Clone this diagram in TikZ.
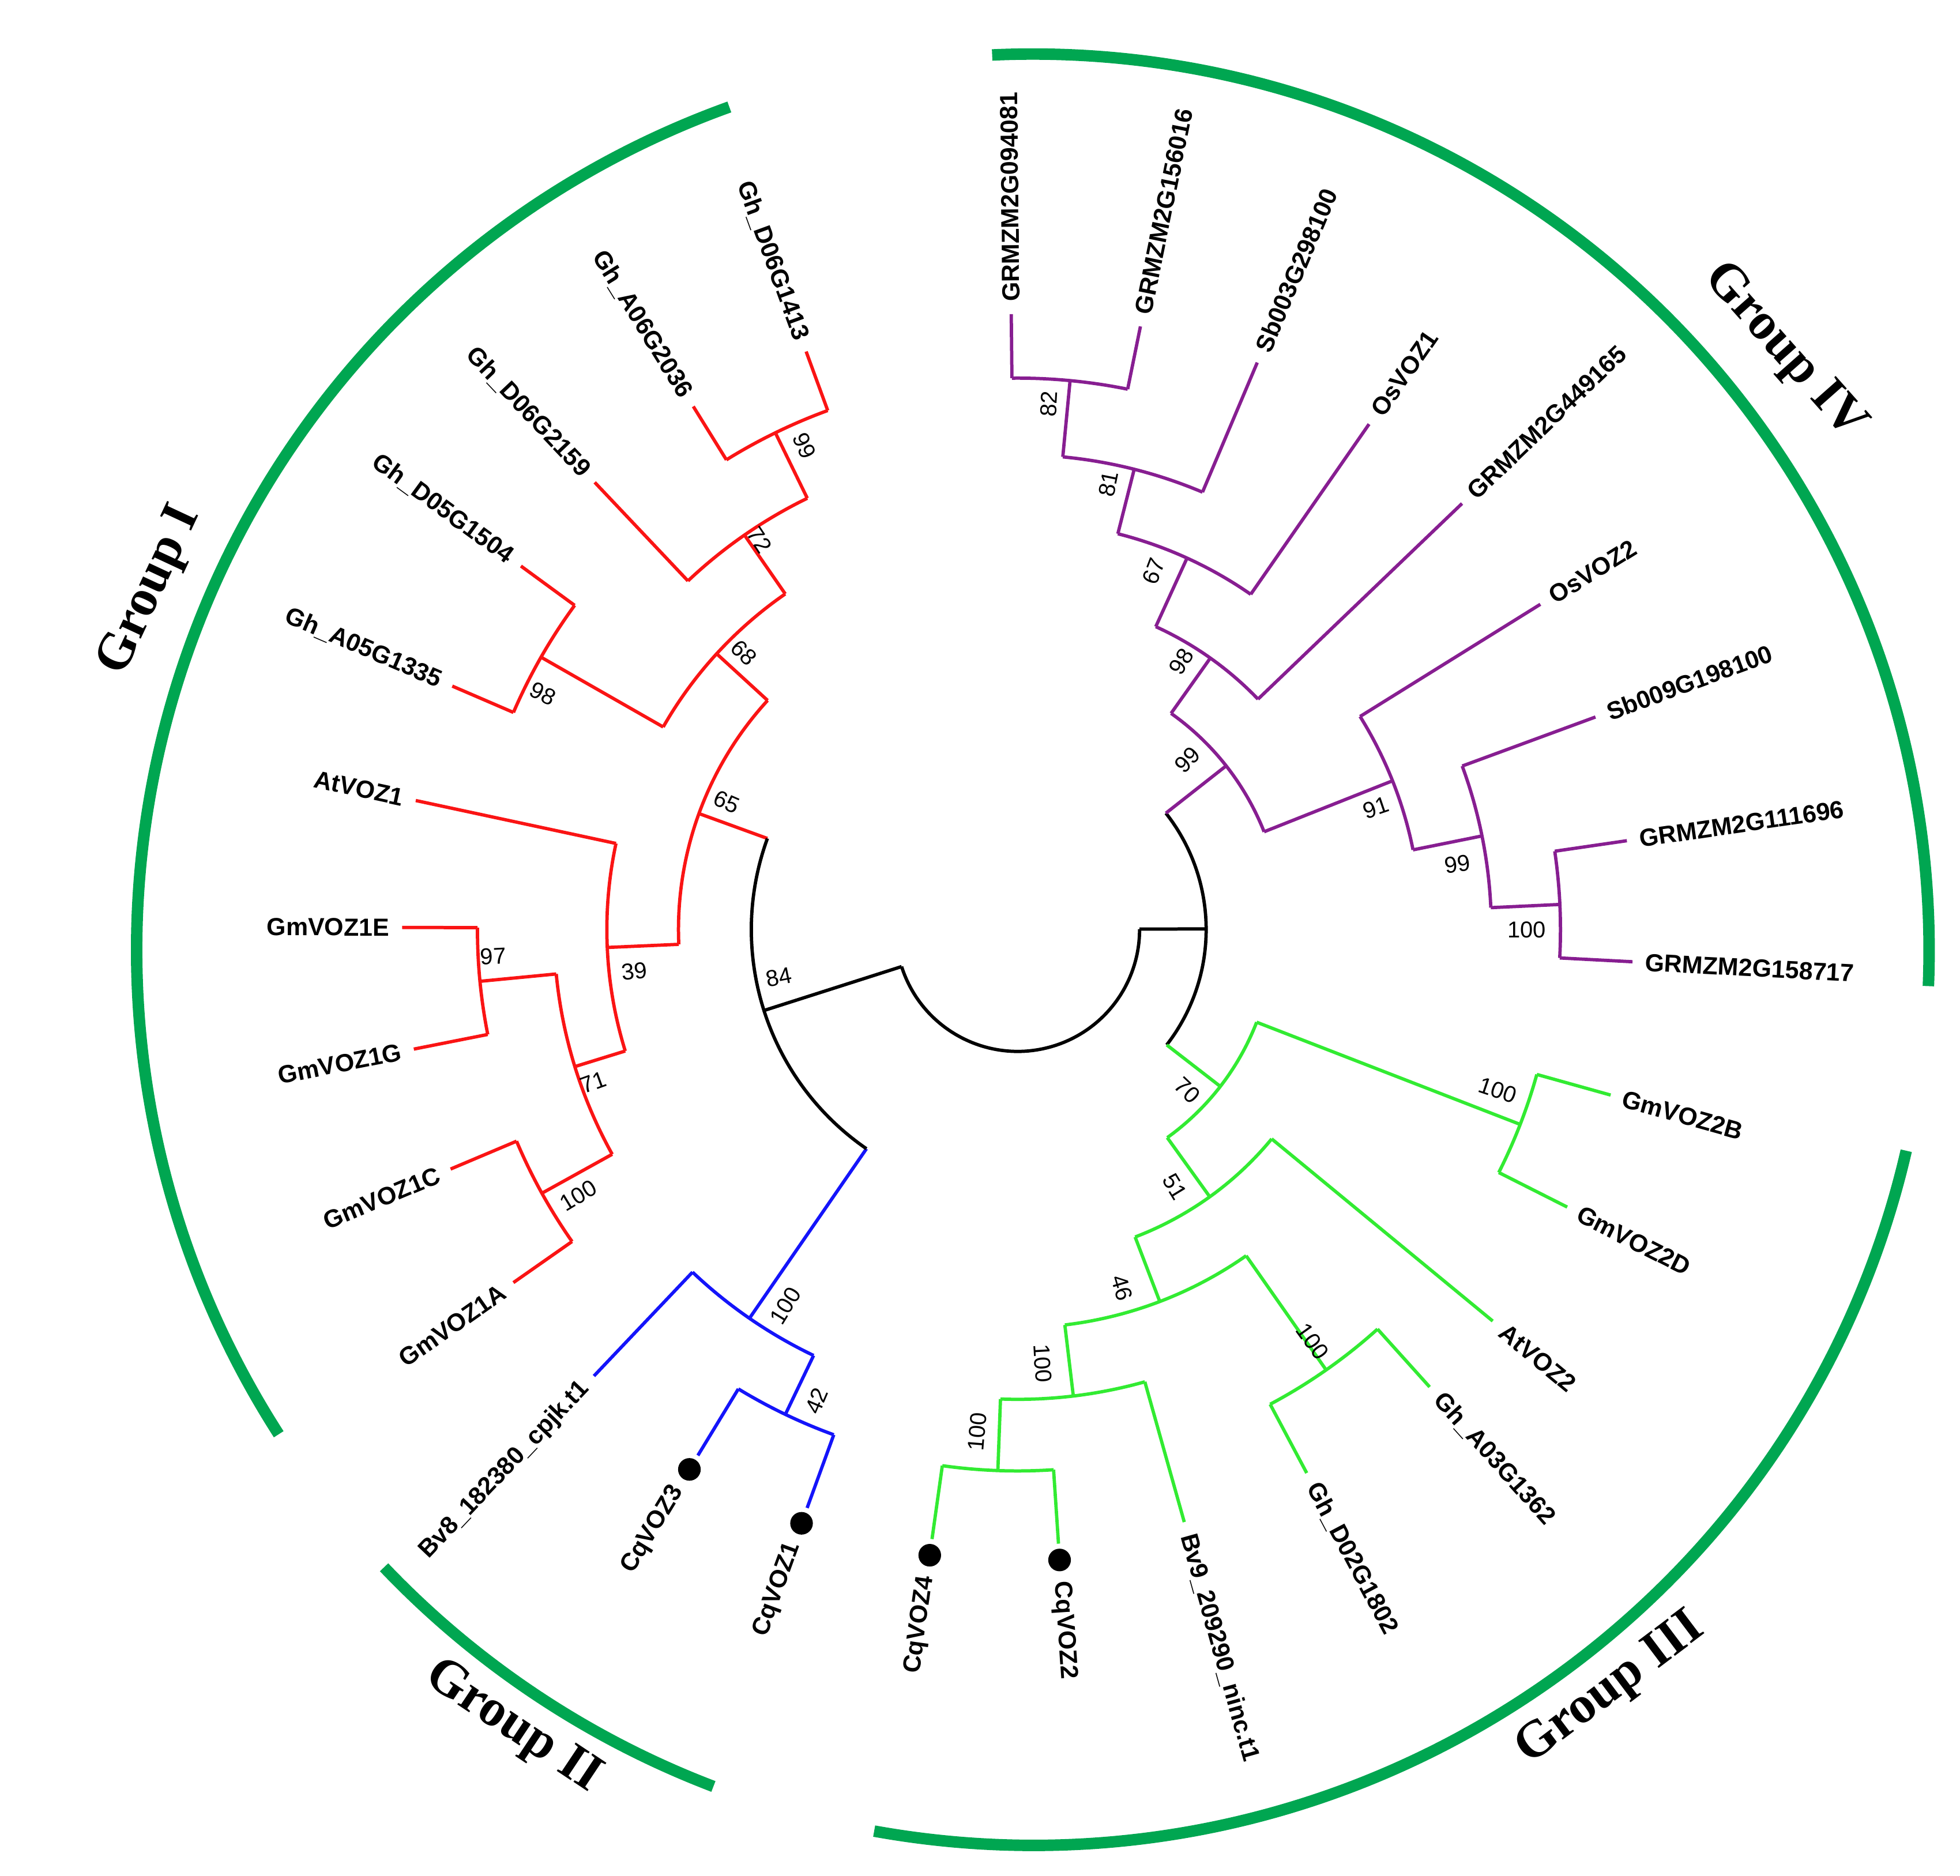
\documentclass[tikz,border=0pt]{standalone}
\usepackage{fontspec}
\setsansfont{Liberation Sans}
\setmainfont{Liberation Serif}
\usetikzlibrary{calc}
\definecolor{cr}{RGB}{250,20,20}
\definecolor{cb}{RGB}{20,20,250}
\definecolor{cg}{RGB}{50,235,50}
\definecolor{cp}{RGB}{135,30,145}
\definecolor{grp}{RGB}{0,166,81}
\tikzset{br/.style={line width=0.75pt},
 lab/.style={font=\fontsize{5.6}{6}\selectfont\sffamily\bfseries,inner sep=1pt},
 bsl/.style={font=\fontsize{5.2}{6}\selectfont\sffamily,inner sep=0.5pt},
 grparc/.style={line width=2.6pt,color=grp},
 grplab/.style={font=\fontsize{11.8}{14}\selectfont\rmfamily\bfseries}}
\newcommand\Rad[4]{\draw[br,#1] ($(T)+(#2:#3)$) -- ($(T)+(#2:#4)$);}
\newcommand\Arc[4]{\draw[br,#1] ($(T)+(#2:#4)$) arc[start angle=#2,end angle=#3,radius=#4*0.01cm];}
\newcommand\Lf[6]{%
 \draw[br,#1] ($(T)+(#2:#3)$) -- ($(T)+(#2:490)$);
 \ifnum#6=1 \fill ($(T)+(#2:503)$) circle[radius=0.09cm]; \def\lr{516}\else\def\lr{496}\fi
 \pgfmathtruncatemacro\sd{(#2>91)&&(#2<270)}%
 \ifnum\sd=1 \node[lab,anchor=east,rotate=#2-180] (#4) at ($(T)+(#2:\lr)$) {#5};
 \else \node[lab,anchor=west,rotate=#2] (#4) at ($(T)+(#2:\lr)$) {#5};\fi}
\newcommand\Bs[4]{%
 \pgfmathtruncatemacro\sd{(#2>91)&&(#2<270)}%
 \ifnum\sd=1 \node[bsl,rotate=#2-180] (#1) at ($(T)+(#2:#3)$) {#4};
 \else \node[bsl,rotate=#2] (#1) at ($(T)+(#2:#3)$) {#4};\fi}
\begin{document}
\begin{tikzpicture}[x=0.01cm,y=0.01cm]
\useasboundingbox (0,0) rectangle (1560,1493);
\coordinate (T) at (810,753);
\coordinate (G) at (822,737);
% group arcs
\draw[grparc] ($(G)+(109.8:713)$) arc[start angle=109.8,end angle=212.7,radius=7.13cm];
\draw[grparc] ($(G)+(223.6:713)$) arc[start angle=223.6,end angle=249.1,radius=7.13cm];
\draw[grparc] ($(G)+(259.8:713)$) arc[start angle=259.8,end angle=347,radius=7.13cm];
\draw[grparc] ($(G)+(92.6:713)$) arc[start angle=92.6,end angle=-2.3,radius=7.13cm];
\node[grplab,rotate=65] (g1) at (120,1023) {Group I};
\node[grplab,rotate=-33.7] (g2) at (408,118) {Group II};
\node[grplab,rotate=37] (g3) at (1282,148) {Group III};
\node[grplab,rotate=-48.5] (g4) at (1420,1213) {Group IV};
% red
\Lf{cr}{110.1}{440}{l1}{Gh\_D06G1413}{0}
\Lf{cr}{121.8}{440}{l2}{Gh\_A06G2036}{0}
\Arc{cr}{110.1}{121.8}{440}\Rad{cr}{116}{440}{382}
\Lf{cr}{133.4}{382}{l3}{Gh\_D06G2159}{0}
\Arc{cr}{116}{133.4}{382}\Rad{cr}{124.7}{382}{325}
\Lf{cr}{143.8}{437}{l4}{Gh\_D05G1504}{0}
\Lf{cr}{156.7}{437}{l5}{Gh\_A05G1335}{0}
\Arc{cr}{143.8}{156.7}{437}\Rad{cr}{150.25}{437}{325}
\Arc{cr}{124.7}{150.25}{325}\Rad{cr}{137.5}{325}{270}
\Lf{cr}{179.8}{430}{l7}{GmVOZ1E}{0}
\Lf{cr}{191.2}{430}{l8}{GmVOZ1G}{0}
\Arc{cr}{179.8}{191.2}{430}\Rad{cr}{185.5}{430}{369}
\Lf{cr}{202.9}{433}{l9}{GmVOZ1C}{0}
\Lf{cr}{215}{433}{l10}{GmVOZ1A}{0}
\Arc{cr}{202.9}{215}{433}\Rad{cr}{209}{433}{369}
\Arc{cr}{185.5}{209}{369}\Rad{cr}{197.2}{369}{327}
\Lf{cr}{167.9}{327}{l6}{AtVOZ1}{0}
\Arc{cr}{167.9}{197.2}{327}\Rad{cr}{182.5}{327}{270}
\Arc{cr}{137.5}{182.5}{270}\Rad{cr}{160}{270}{212}
% blue
\Lf{cb}{238.7}{428}{l12}{CqVOZ3}{1}
\Lf{cb}{250}{428}{l13}{CqVOZ1}{1}
\Arc{cb}{238.7}{250}{428}\Rad{cb}{244.4}{428}{376}
\Lf{cb}{226.5}{376}{l11}{Bv8\_182380\_cpjk.t1}{0}
\Arc{cb}{226.5}{244.4}{376}\Rad{cb}{235.4}{376}{212}
% black
\Arc{black}{160}{235.4}{212}\Rad{black}{197.7}{212}{97}
\Arc{black}{197.7}{360.2}{97}\Rad{black}{0.2}{97}{150}
\Arc{black}{-37.75}{38.15}{150}
% green
\Lf{cg}{262}{431}{l14}{CqVOZ4}{1}
\Lf{cg}{273.8}{431}{l15}{CqVOZ2}{1}
\Arc{cg}{262}{273.8}{431}\Rad{cg}{267.9}{431}{374}
\Lf{cg}{285.7}{374}{l16}{Bv9\_209290\_ninc.t1}{0}
\Arc{cg}{267.9}{285.7}{374}\Rad{cg}{276.8}{374}{317}
\Lf{cg}{298}{428}{l17}{Gh\_D02G1802}{0}
\Lf{cg}{312}{428}{l18}{Gh\_A03G1362}{0}
\Arc{cg}{298}{312}{428}\Rad{cg}{305}{428}{317}
\Arc{cg}{276.8}{305}{317}\Rad{cg}{290.9}{317}{262}
\Lf{cg}{320.5}{262}{l19}{AtVOZ2}{0}
\Arc{cg}{290.9}{320.5}{262}\Rad{cg}{305.7}{262}{204}
\Lf{cg}{333.2}{429}{l20}{GmVOZ2D}{0}
\Lf{cg}{344.4}{429}{l21}{GmVOZ2B}{0}
\Arc{cg}{333.2}{344.4}{429}\Rad{cg}{338.8}{429}{204}
\Arc{cg}{305.7}{338.8}{204}\Rad{cg}{322.25}{204}{150}
% purple
\Lf{cp}{-3}{432}{l22}{GRMZM2G158717}{0}
\Lf{cp}{8.3}{432}{l23}{GRMZM2G111696}{0}
\Arc{cp}{-3}{8.3}{432}\Rad{cp}{2.65}{432}{377}
\Lf{cp}{20.2}{377}{l24}{Sb009G198100}{0}
\Arc{cp}{2.65}{20.2}{377}\Rad{cp}{11.4}{377}{321}
\Lf{cp}{31.9}{321}{l25}{OsVOZ2}{0}
\Arc{cp}{11.4}{31.9}{321}\Rad{cp}{21.65}{321}{211}
\Lf{cp}{90.6}{439}{l30}{GRMZM2G094081}{0}
\Lf{cp}{78.5}{439}{l29}{GRMZM2G156016}{0}
\Arc{cp}{78.5}{90.6}{439}\Rad{cp}{84.55}{439}{378}
\Lf{cp}{67.1}{378}{l28}{Sb003G298100}{0}
\Arc{cp}{67.1}{84.55}{378}\Rad{cp}{75.8}{378}{325}
\Lf{cp}{55.2}{325}{l27}{OsVOZ1}{0}
\Arc{cp}{55.2}{75.8}{325}\Rad{cp}{65.5}{325}{265}
\Lf{cp}{43.8}{265}{l26}{GRMZM2G449165}{0}
\Arc{cp}{43.8}{65.5}{265}\Rad{cp}{54.65}{265}{211}
\Arc{cp}{21.65}{54.65}{211}\Rad{cp}{38.15}{211}{150}
% bootstrap
\Bs{b1}{113.8}{421}{99}
\Bs{b2}{123.5}{372}{72}
\Bs{b3}{134.7}{310}{68}
\Bs{b4}{156.3}{253}{65}
\Bs{b5}{153.6}{422}{98}
\Bs{b6}{186.2}{307}{39}
\Bs{b7}{182.9}{418}{97}
\Bs{b8}{199.8}{359}{71}
\Bs{b9}{211.2}{409}{100}
\Bs{b10}{191.3}{194}{84}
\Bs{b11}{238.3}{352}{100}
\Bs{b12}{246.9}{408}{42}
\Bs{b13}{316.5}{186}{70}
\Bs{b14}{301.4}{240}{51}
\Bs{b15}{286.2}{297}{46}
\Bs{b16}{273.3}{346}{100}
\Bs{b17}{265.4}{401}{100}
\Bs{b18}{305.6}{403}{100}
\Bs{b19}{341.5}{403}{100}
\Bs{b20}{86.6}{419}{82}
\Bs{b21}{78.5}{362}{81}
\Bs{b22}{69.2}{305}{67}
\Bs{b23}{58.6}{250}{98}
\Bs{b24}{45}{191}{99}
\Bs{b25}{18.8}{301}{91}
\Bs{b26}{8.45}{354}{99}
\Bs{b27}{0}{405}{100}
\end{tikzpicture}
\end{document}
